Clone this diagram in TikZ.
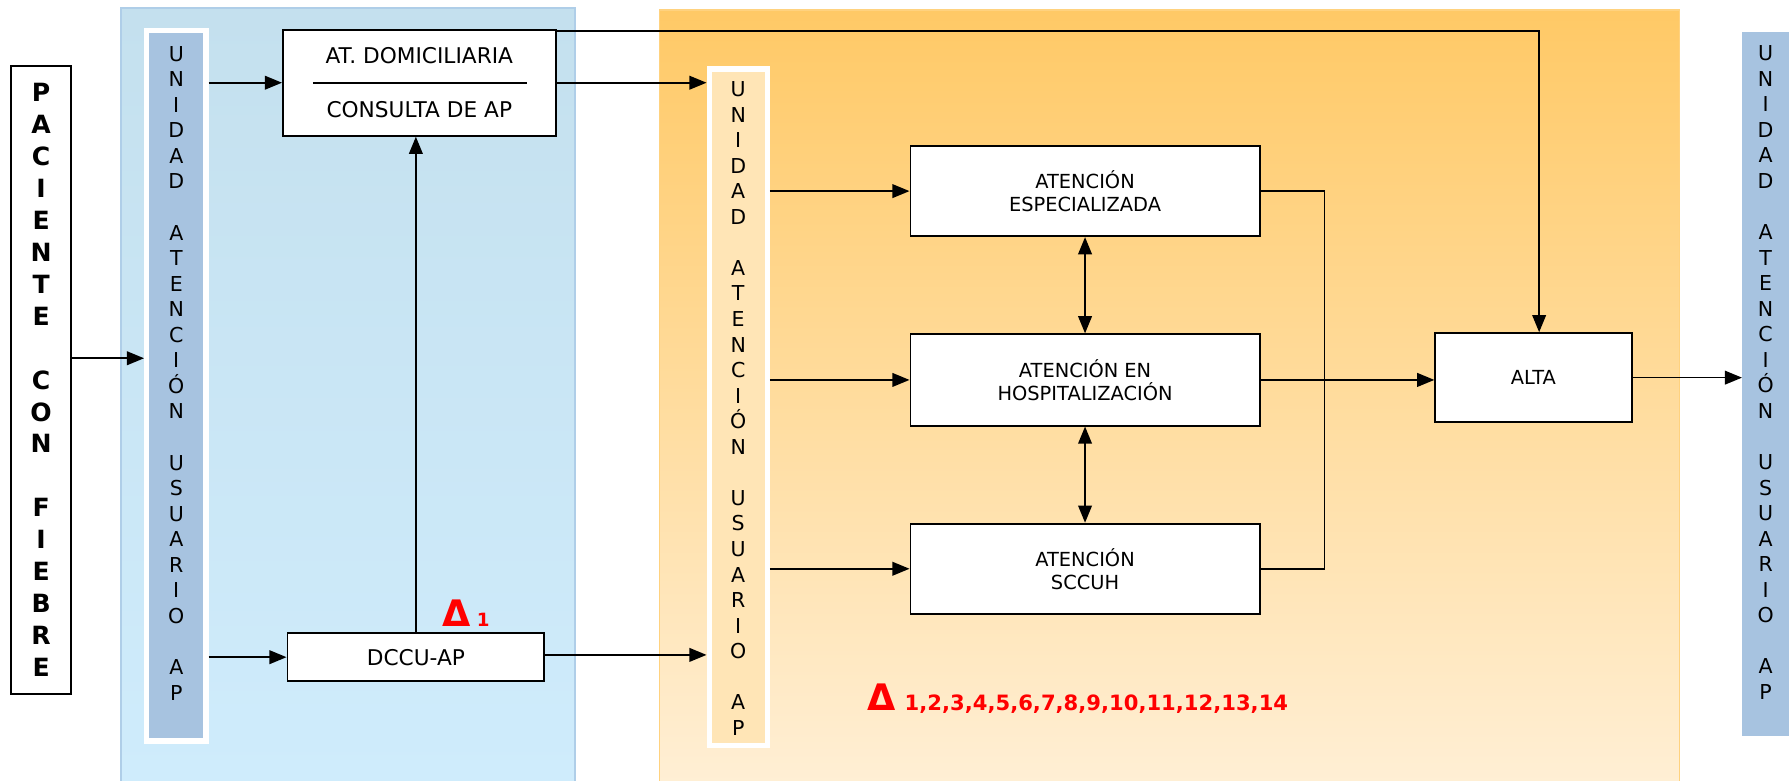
\documentclass[tikz,border=0pt]{standalone}
\usepackage{fontspec}
\setmainfont{DejaVu Sans}
\usetikzlibrary{arrows.meta, positioning, calc}
\definecolor{azulpanel}{HTML}{C4E0EE}
\definecolor{azulpanelb}{HTML}{CFECFC}
\definecolor{azulborde}{HTML}{AFCEE8}
\definecolor{azulbarra}{HTML}{A7C3E0}
\definecolor{naranjapanel}{HTML}{FFC966}
\definecolor{naranjapanelb}{HTML}{FFEFD5}
\definecolor{naranjaborde}{HTML}{FFD27F}
\definecolor{naranjabarra}{HTML}{FFE5B6}
\definecolor{rojodelta}{HTML}{FF0000}
\tikzset{
  caja/.style={draw=black, line width=1.7pt, fill=white, inner sep=0pt, align=center, font=\fontsize{17}{20}\selectfont},
  barra/.style={draw=white, line width=4.5pt, inner sep=0pt},
  letras/.style={inner sep=0pt, align=center, font=\fontsize{18}{22.4}\selectfont},
  flecha/.style={line width=1.4pt, -{Triangle[length=15pt, width=12pt]}},
  doble/.style={line width=1.4pt, {Triangle[length=15pt, width=12pt]}-{Triangle[length=15pt, width=12pt]}},
  linea/.style={line width=1.4pt},
  delta/.style={text=rojodelta, font=\bfseries, inner sep=0pt, anchor=base west}
}
\newcommand{\unidadap}{U\\N\\I\\D\\A\\D\\[22.4pt]A\\T\\E\\N\\C\\I\\Ó\\N\\[22.4pt]U\\S\\U\\A\\R\\I\\O\\[22.4pt]A\\P}

\begin{document}
\begin{tikzpicture}[x=1pt, y=-1pt]
  \useasboundingbox (0,0) rectangle (1568,684);

  % Panel backgrounds
  \shade[top color=azulpanel, bottom color=azulpanelb, draw=azulborde, line width=1.5pt] (106,7) rectangle (504,690);
  \shade[top color=naranjapanel, bottom color=naranjapanelb, draw=naranjaborde, line width=1.5pt] (578,9) rectangle (1472,690);

  % Patient
  \node[draw=black, line width=1.7pt, fill=white, minimum width=52pt, minimum height=550pt, inner sep=0pt,
        align=center, font=\fontsize{22}{28}\selectfont\bfseries] (paciente) at (36,333)
        {P\\A\\C\\I\\E\\N\\T\\E\\[28pt]C\\O\\N\\[28pt]F\\I\\E\\B\\R\\E};

  % Unidad atencion usuario bars
  \node[barra, fill=azulbarra, minimum width=52pt, minimum height=623pt] (barL) at (154.5,338) {};
  \node[letras] (txtL) at (154.5,327) {\unidadap};
  \node[barra, fill=naranjabarra, minimum width=51pt, minimum height=593pt] (barM) at (647,357) {};
  \node[letras] (txtM) at (647,358) {\unidadap};
  \node[fill=azulbarra, inner sep=0pt, minimum width=41pt, minimum height=617pt] (barR) at (1547.5,336.5) {};
  \node[letras] (txtR) at (1547.5,326.5) {\unidadap};

  % Primary care boxes
  \node[caja, minimum width=239pt, minimum height=93pt, font=\fontsize{19}{47}\selectfont] (dom) at (367.5,72.5)
        {AT. DOMICILIARIA\\CONSULTA DE AP};
  \draw[linea] ([xshift=27pt]dom.west) -- ([xshift=-26pt]dom.east);
  \node[caja, minimum width=225pt, minimum height=42pt, font=\fontsize{19}{22}\selectfont] (dccu) at (364.5,576) {DCCU-AP};

  % Hospital boxes
  \node[caja, minimum width=306pt, minimum height=79pt] (esp) at (951,167.5) {ATENCIÓN\\ESPECIALIZADA};
  \node[caja, minimum width=306pt, minimum height=80pt] (hosp) at (951,333) {ATENCIÓN EN\\HOSPITALIZACIÓN};
  \node[caja, minimum width=306pt, minimum height=79pt] (sccuh) at (951,498.5) {ATENCIÓN\\SCCUH};
  \node[caja, minimum width=172pt, minimum height=78pt] (alta) at (1344,331) {ALTA};

  % Connectors
  \coordinate (p1) at ([yshift=19pt]paciente.east);
  \draw[flecha] (p1) -- (p1 -| barL.west);
  \draw[flecha] (barL.east |- dom.west) -- (dom.west);
  \draw[flecha] (barL.east |- dccu.west) -- (dccu.west);
  \draw[flecha] (dccu.north) -- (dccu.north |- dom.south);
  \draw[flecha] (dom.east) -- (dom.east -| barM.west);
  \draw[flecha] ([yshift=-2pt]dom.north east) -| ([xshift=5pt]alta.north);
  \draw[flecha] ([yshift=2pt]dccu.east) -- ([yshift=2pt]dccu.east -| barM.west);
  \foreach \caja in {esp, hosp, sccuh}
    \draw[flecha] (barM.east |- \caja.west) -- (\caja.west);
  \draw[doble] (esp.south) -- (hosp.north);
  \draw[doble] (hosp.south) -- (sccuh.north);
  \draw[linea] (esp.east) -| ($(sccuh.east)+(56,0)$) -- (sccuh.east);
  \draw[flecha] (hosp.east) -- (hosp.east -| alta.west);
  \draw[flecha] (alta.east) -- (alta.east -| barR.west);

  % Delta marks
  \node[delta] (delta1) at (388,549) {{\fontsize{32}{32}\selectfont Δ}\hspace{5pt}{\fontsize{16}{16}\selectfont 1}};
  \node[delta] (delta2) at (760,623) {{\fontsize{32}{32}\selectfont Δ}\hspace{8pt}{\fontsize{18.5}{18.5}\selectfont 1,2,3,4,5,6,7,8,9,10,11,12,13,14}};
\end{tikzpicture}
\end{document}
